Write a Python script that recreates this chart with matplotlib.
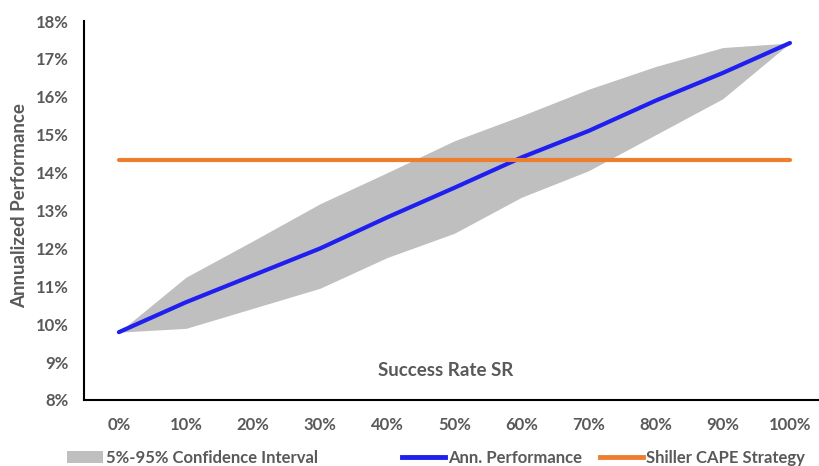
import matplotlib
matplotlib.use("Agg")
import matplotlib.pyplot as plt
from matplotlib.patches import Patch
from matplotlib.lines import Line2D

categories = ["0%", "10%", "20%", "30%", "40%", "50%", "60%", "70%", "80%", "90%", "100%"]
ann_perf = [9.79, 10.58, 11.29, 12.00, 12.82, 13.60, 14.40, 15.10, 15.90, 16.63, 17.42]
ci_upper = [9.79, 11.24, 12.20, 13.18, 14.00, 14.84, 15.50, 16.20, 16.80, 17.30, 17.42]
ci_lower = [9.79, 9.89, 10.42, 10.95, 11.76, 12.40, 13.35, 14.05, 15.00, 15.95, 17.42]
shiller = [14.32] * len(categories)
yticks = [8, 9, 10, 11, 12, 13, 14, 15, 16, 17, 18]

plt.rcParams['font.family'] = ['Lato', 'DejaVu Sans']
gray_txt = "#595959"

fig = plt.figure(figsize=(8.2, 4.66), dpi=100)
W, H = 820, 466
ax = fig.add_axes([84 / W, 1 - 400 / H, (823.5 - 84) / W, (400 - 21) / H])

x = list(range(len(categories)))
ax.fill_between(x, ci_lower, ci_upper, color="#BFBFBF", linewidth=0)
ax.plot(x, ann_perf, color="#1F1FF0", lw=3.0, solid_capstyle="round")
ax.plot(x, shiller, color="#ED7D31", lw=3.0, solid_capstyle="round")

ax.set_xlim(-0.52, 10.5)
ax.set_ylim(8, 18)
ax.set_xticks(x)
ax.set_xticklabels(categories)
ax.set_yticks(yticks)
ax.set_yticklabels([f"{v}%" for v in yticks])
ax.tick_params(axis="both", length=0, labelsize=12, labelcolor=gray_txt)
ax.tick_params(axis="y", pad=11)
ax.tick_params(axis="x", pad=12)
for lab in ax.get_xticklabels() + ax.get_yticklabels():
    lab.set_fontweight("bold")

for s in ["top", "right"]:
    ax.spines[s].set_visible(False)
for s in ["left", "bottom"]:
    ax.spines[s].set_color("black")
    ax.spines[s].set_linewidth(1.5)

fig.text(20 / W, 1 - 206 / H, "Annualized Performance", rotation=90, ha="center", va="center",
         fontsize=13.5, fontweight="bold", color=gray_txt)
fig.text(446 / W, 1 - 371 / H, "Success Rate SR", ha="center", va="center",
         fontsize=13.5, fontweight="bold", color=gray_txt)

handles = [Patch(facecolor="#BFBFBF", edgecolor="none"),
           Line2D([0], [0], color="#1F1FF0", lw=3.5),
           Line2D([0], [0], color="#ED7D31", lw=3.5)]
labels = ["5%-95% Confidence Interval", "Ann. Performance", "Shiller CAPE Strategy"]
positions = [67, 402, 600]
hlens = [2.15, 2.58, 2.58]
for h, l, px, hl in zip(handles, labels, positions, hlens):
    leg = fig.legend([h], [l], loc="center left", bbox_to_anchor=(px / W, 1 - 458 / H),
                     frameon=False, handlelength=hl, handletextpad=0.2, borderpad=0, borderaxespad=0,
                     prop={"size": 12, "weight": "bold"})
    for t in leg.get_texts():
        t.set_color(gray_txt)

fig.savefig("out.png", dpi=100)
